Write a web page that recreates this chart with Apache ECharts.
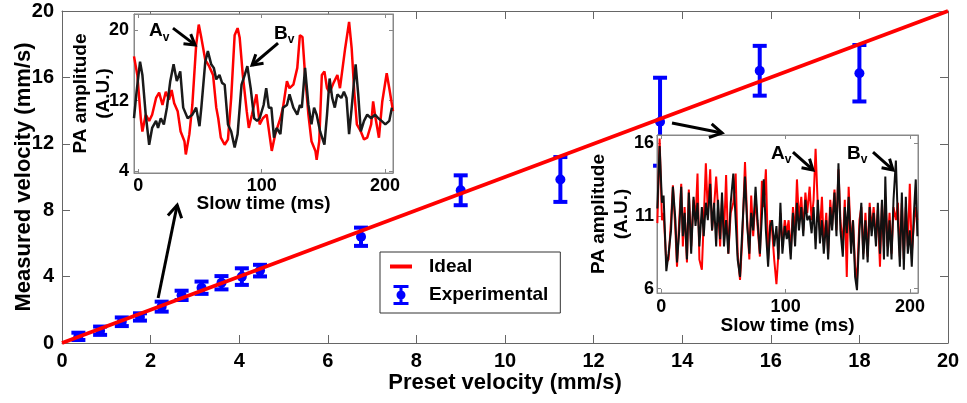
<!DOCTYPE html>
<html><head><meta charset="utf-8">
<script src="https://cdn.jsdelivr.net/npm/echarts@6/dist/echarts.min.js"></script>
<style>html,body{margin:0;padding:0;background:#fff}#c{width:967px;height:403px}</style>
</head><body><div id="c"></div>
<script>
// ---------------- data ----------------
const mainXTicks = [0, 2, 4, 6, 8, 10, 12, 14, 16, 18, 20];
const mainYTicks = [0, 4, 8, 12, 16, 20];
const presetVelocity   = [0.37, 0.86, 1.35, 1.76, 2.25, 2.70, 3.15, 3.60, 4.06, 4.47, 6.75, 9.00, 11.25, 13.50, 15.75, 18.00];
const measuredVelocity = [0.40, 0.74, 1.28, 1.57, 2.19, 2.87, 3.33, 3.63, 4.00, 4.36, 6.40, 9.20, 9.85, 13.33, 16.40, 16.25];
const measuredError    = [0.22, 0.25, 0.26, 0.22, 0.30, 0.28, 0.37, 0.40, 0.50, 0.35, 0.55, 0.90, 1.35, 2.65, 1.50, 1.70];
const idealX = [0, 20];
const idealY = [0, 20];

const insetXTicks = [0, 100, 200];
const inset1YTicks = [4, 12, 20];
const inset2YTicks = [6, 11, 16];

const inset1RedT = [-3.5,-0.8,2.0,3.3,6.0,8.8,11.2,14.4,16.9,19.6,22.3,24.9,27.0,29.1,31.9,34.3,37.4,38.5,41.4,43.8,46.9,49.0,51.1,54.3,57.4,60.6,63.2,64.8,66.9,70.0,72.7,75.3,78.1,80.5,82.2,84.7,87.9,89.6,92.1,95.8,98.4,101.0,104.1,108.2,111.0,115.2,117.3,120.5,122.6,125.7,128.9,131.0,133.1,135.2,137.9,140.4,143.6,144.6,146.7,148.8,150.9,153.0,155.1,158.3,161.4,163.5,167.7,170.9,173.0,175.1,177.2,180.4,183.0,185.6,188.8,190.4,191.9,195.1,197.8,201.4,203.5,206.5];
const inset1RedV = [17.0,14.9,10.0,8.5,10.4,9.7,10.4,12.3,12.9,11.5,13.0,12.1,13.2,11.7,10.8,8.5,7.4,5.9,8.2,11.5,18.3,20.6,19.1,16.6,15.9,14.9,11.2,10.0,7.8,7.0,7.6,12.3,19.4,20.2,19.1,14.9,10.8,8.9,10.4,12.7,9.3,10.0,10.4,6.3,8.2,10.0,11.2,14.2,13.4,13.8,15.7,19.4,19.2,14.9,10.4,7.4,6.3,5.3,7.4,14.9,15.3,13.4,12.9,14.0,14.9,13.4,17.9,20.9,17.9,13.0,9.3,8.5,7.6,7.8,9.3,11.9,10.4,7.8,11.9,15.1,13.4,10.8];
const inset1BlackT = [-3.5,-1.4,1.4,3.3,6.0,8.8,11.2,14.4,16.0,18.2,20.7,23.2,25.9,28.6,31.2,34.0,36.4,40.0,43.8,46.9,49.6,51.1,54.3,56.4,59.1,61.2,63.2,65.8,67.9,70.0,72.7,75.3,78.1,80.5,83.7,86.3,88.4,91.1,93.9,96.3,98.4,101.6,103.7,105.8,107.9,110.0,112.1,115.2,117.3,120.5,122.6,125.7,128.9,131.0,132.6,135.2,137.9,140.4,142.5,144.6,147.4,150.9,153.0,155.1,157.2,159.3,161.4,164.6,166.7,168.8,170.9,173.0,176.2,178.3,180.4,183.0,185.6,188.8,191.9,194.6,197.2,200.3,203.5,205.6];
const inset1BlackV = [10.0,13.0,16.4,14.9,10.4,7.0,8.9,9.7,8.9,10.0,9.3,11.2,14.2,16.1,14.2,15.3,11.2,10.0,10.4,11.2,9.1,11.2,16.4,17.6,16.1,15.7,14.4,14.9,14.0,13.8,9.3,8.5,6.7,8.2,13.8,14.9,15.9,13.4,10.0,9.7,10.0,11.5,13.4,11.2,11.2,7.8,8.9,8.2,11.2,11.5,12.7,11.2,10.4,11.5,11.2,15.7,11.5,9.3,11.2,10.4,8.5,7.0,10.4,14.5,12.3,11.2,12.7,12.3,13.0,12.3,8.2,11.2,16.1,12.7,8.5,9.7,10.4,10.0,10.4,10.0,9.7,9.3,9.7,11.2];

const inset2T = [-3.2,-1.4,0.5,1.8,4.0,5.8,7.8,9.3,11.3,12.6,14.4,16.0,17.3,18.7,20.6,22.1,24.0,25.9,27.5,29.1,30.6,32.6,34.1,35.8,37.4,39.3,40.8,42.4,44.1,45.6,47.3,48.8,50.4,52.1,53.9,55.8,57.9,59.8,61.4,63.3,65.1,67.3,69.1,70.8,72.3,73.9,75.8,77.4,79.3,80.9,82.4,84.1,85.9,87.6,89.1,90.8,92.6,94.2,95.8,97.4,99.3,100.9,102.4,104.1,105.9,107.6,109.1,110.7,112.6,114.2,115.9,117.4,119.3,120.9,122.5,124.1,125.9,127.6,129.2,130.7,132.7,134.2,135.9,137.4,139.3,140.9,142.5,144.1,146.0,147.6,149.2,150.7,152.7,154.2,155.9,157.4,159.4,160.9,162.5,164.2,166.0,167.6,169.2,170.8,172.7,174.2,175.9,177.5,179.1,180.2,182.0,183.6,185.2,186.8,188.7,190.3,191.9,193.5,195.1,196.7,198.3,199.9,201.5,203.1,204.7,206.0];
const inset2Red = [10.5,16.3,10.7,11.2,7.8,8.0,10.7,13.1,10.0,7.5,10.7,13.2,8.9,11.6,7.8,12.8,8.9,12.1,10.7,13.9,8.0,7.3,10.7,14.6,11.2,14.2,10.0,11.6,13.7,11.6,8.9,12.1,9.6,13.8,8.4,11.2,11.9,13.9,8.4,6.6,9.4,14.7,10.7,8.0,12.4,9.6,12.3,10.3,8.2,13.4,11.6,14.2,8.0,10.7,10.0,8.0,6.3,8.4,11.2,8.9,10.7,9.8,10.7,8.4,11.6,9.6,13.5,10.7,12.3,10.0,12.6,11.2,13.0,10.7,12.1,15.6,11.6,10.0,12.3,8.9,11.2,8.4,12.1,10.3,12.8,10.0,14.2,10.7,8.9,12.1,6.8,13.0,8.9,10.7,7.5,6.6,10.7,11.6,8.4,11.2,8.2,11.9,10.0,11.6,9.4,11.4,7.5,11.9,8.9,12.3,8.9,11.2,8.4,11.6,10.7,11.9,8.2,11.9,8.0,11.6,8.9,13.2,8.4,10.3,11.6,10.7];
const inset2Black = [11.5,15.8,11.9,12.4,7.2,8.4,10.0,13.0,10.7,7.8,10.0,13.0,9.6,11.2,8.0,12.6,8.4,12.3,10.3,11.9,8.9,11.6,9.6,11.9,10.7,13.2,10.0,11.9,8.9,12.1,9.4,12.6,8.9,10.7,8.4,11.9,13.9,10.7,8.0,6.8,10.0,13.7,10.3,8.4,11.2,10.0,13.0,10.7,8.4,11.0,13.5,10.0,7.5,10.3,10.7,8.9,10.3,8.0,11.9,8.4,10.3,9.4,10.0,8.0,11.2,8.9,11.9,10.0,11.6,9.6,12.1,10.7,11.0,9.8,11.6,8.7,12.1,9.1,10.7,8.4,10.7,8.0,11.6,10.0,12.6,9.6,14.6,10.0,8.2,11.6,9.8,12.3,8.4,10.7,6.8,5.9,10.0,11.9,8.0,10.7,7.8,11.6,9.6,11.2,8.9,11.9,8.4,12.1,8.0,13.7,8.2,10.7,8.0,12.1,14.8,10.7,7.5,12.6,7.3,12.3,8.4,10.0,7.5,11.0,13.5,9.6];

// annotation anchors (data coords of each panel)
const annMain = [{from:[2.17,2.71], to:[2.60,8.31]}, {from:[13.77,13.25], to:[14.90,12.65]}];
const annInset1 = [{label:[8.7,21.3], from:[28.1,20.2], to:[46.0,18.3], name:'A'},
                   {label:[110.0,21.0], from:[113.3,18.5], to:[92.2,16.0], name:'B'}];
const annInset2 = [{label:[88.2,16.14], from:[105.9,15.38], to:[122.0,14.15], name:'A'},
                   {label:[149.4,16.14], from:[170.3,15.38], to:[186.4,14.15], name:'B'}];

// ---------------- chart ----------------
const FONT = 'Liberation Sans, Arial, Helvetica, sans-serif';
const AX = '#666';
const zip = (a, b) => a.map((v, i) => [v, b[i]]);
const chart = echarts.init(document.getElementById('c'), null, {renderer: 'canvas'});

function mainAxis(kind, pos, show, extra) {
  return Object.assign({
    type: 'value', gridIndex: 0, position: pos, min: 0, max: 20, interval: kind === 'x' ? 2 : 4,
    nameMoveOverlap: false,
    axisLine: {show: true, onZero: false, lineStyle: {color: AX, width: 1}},
    axisTick: {show: true, inside: true, length: 8, lineStyle: {color: AX, width: 1}},
    axisLabel: {show: show, fontFamily: FONT, fontSize: 20, fontWeight: 'bold', color: '#000', margin: 8},
    splitLine: {show: false}, z: 1
  }, extra || {});
}
function insetAxis(grid, pos, min, max, ticks, show, extra, margin) {
  return Object.assign({
    type: 'value', gridIndex: grid, position: pos, min: min, max: max,
    nameMoveOverlap: false,
    axisLine: {show: true, onZero: false, lineStyle: {color: '#888', width: 1}},
    axisTick: {show: true, inside: true, length: 4, customValues: ticks, lineStyle: {color: '#888'}},
    axisLabel: {show: show, customValues: ticks, fontFamily: FONT, fontSize: 18, fontWeight: 'bold', color: '#000', margin: margin},
    splitLine: {show: false}, z: 11
  }, extra || {});
}
const nameStyleMain = {fontFamily: FONT, fontSize: 22, fontWeight: 'bold', color: '#000'};
const nameStyleInset = {fontFamily: FONT, fontSize: 19, fontWeight: 'bold', color: '#000', lineHeight: 23};

const option = {
  animation: false,
  backgroundColor: '#fff',
  grid: [
    {left: 62, top: 11, right: 19, bottom: 60, show: false, outerBoundsMode: 'none', containLabel: false},
    {left: 134, top: 14, width: 259, height: 159, show: true, backgroundColor: '#fff', borderColor: '#888', borderWidth: 1, z: 10, outerBoundsMode: 'none', containLabel: false},
    {left: 657, top: 135, width: 261, height: 158, show: true, backgroundColor: '#fff', borderColor: '#888', borderWidth: 1, z: 10, outerBoundsMode: 'none', containLabel: false}
  ],
  xAxis: [
    mainAxis('x', 'bottom', true, {name: 'Preset velocity (mm/s)', nameLocation: 'middle', nameGap: 29, nameTextStyle: nameStyleMain}),
    mainAxis('x', 'top', false),
    insetAxis(1, 'bottom', -3.5, 206.5, insetXTicks, true, {name: 'Slow time (ms)', nameLocation: 'middle', nameGap: 19, nameTextStyle: nameStyleInset}, 4),
    insetAxis(1, 'top', -3.5, 206.5, insetXTicks, false),
    insetAxis(2, 'bottom', -3.5, 206.5, insetXTicks, true, {name: 'Slow time (ms)', nameLocation: 'middle', nameGap: 21, nameTextStyle: nameStyleInset}, 5),
    insetAxis(2, 'top', -3.5, 206.5, insetXTicks, false)
  ],
  yAxis: [
    mainAxis('y', 'left', true, {name: 'Measured velocity (mm/s)', nameLocation: 'middle', nameGap: 27, nameTextStyle: nameStyleMain}),
    mainAxis('y', 'right', false),
    insetAxis(1, 'left', 3.8, 21.8, inset1YTicks, true, {name: 'PA amplitude\n(A.U.)', nameLocation: 'middle', nameGap: 19, nameTextStyle: nameStyleInset}, 5),
    insetAxis(1, 'right', 3.8, 21.8, inset1YTicks, false),
    insetAxis(2, 'left', 5.7, 16.55, inset2YTicks, true, {name: 'PA amplitude\n(A.U.)', nameLocation: 'middle', nameGap: 24, nameTextStyle: nameStyleInset}, 3),
    insetAxis(2, 'right', 5.7, 16.55, inset2YTicks, false)
  ],
  legend: {
    orient: 'vertical', left: 380, top: 252, z: 20,
    backgroundColor: '#fff', borderColor: '#333', borderWidth: 1,
    padding: [5, 12, 8, 10], itemGap: 9, itemWidth: 22, itemHeight: 20,
    textStyle: {fontFamily: FONT, fontSize: 19, fontWeight: 'bold', color: '#000', padding: [0, 0, 0, 12]},
    data: [
      {name: 'Ideal', icon: 'path://M0,0H22V4H0Z', itemStyle: {color: '#ff0000'}},
      {name: 'Experimental', icon: 'path://M0,0H15V3H0Z M6,3H9V17H6Z M0,17H15V20H0Z M7.5,5.5A4.5,4.5 0 1,1 7.5,14.5A4.5,4.5 0 1,1 7.5,5.5Z', itemStyle: {color: '#0000ff'}}
    ]
  },
  series: [
    {
      name: 'Ideal', type: 'line', xAxisIndex: 0, yAxisIndex: 0, data: zip(idealX, idealY),
      showSymbol: false, symbol: 'none', lineStyle: {color: '#ff0000', width: 4}, itemStyle: {color: '#ff0000'}, z: 3
    },
    {
      name: 'Experimental', type: 'custom', xAxisIndex: 0, yAxisIndex: 0,
      data: presetVelocity.map((x, i) => [x, measuredVelocity[i], measuredError[i]]),
      encode: {x: 0, y: 1}, itemStyle: {color: '#0000ff'}, z: 2,
      renderItem: function (params, api) {
        const x = api.value(0), y = api.value(1), e = api.value(2);
        const c = api.coord([x, y]), t = api.coord([x, y + e]), b = api.coord([x, y - e]);
        const w = 7, st = {stroke: '#0000ff', lineWidth: 4};
        return {type: 'group', children: [
          {type: 'line', shape: {x1: c[0], y1: t[1], x2: c[0], y2: b[1]}, style: st},
          {type: 'line', shape: {x1: c[0] - w, y1: t[1], x2: c[0] + w, y2: t[1]}, style: st},
          {type: 'line', shape: {x1: c[0] - w, y1: b[1], x2: c[0] + w, y2: b[1]}, style: st},
          {type: 'circle', shape: {cx: c[0], cy: c[1], r: 5}, style: {fill: '#0000ff'}}
        ]};
      }
    },
    {type: 'line', xAxisIndex: 2, yAxisIndex: 2, data: zip(inset1RedT, inset1RedV), showSymbol: false, symbol: 'none',
     lineStyle: {color: '#ff0000', width: 2.5}, z: 12, silent: true},
    {type: 'line', xAxisIndex: 2, yAxisIndex: 2, data: zip(inset1BlackT, inset1BlackV), showSymbol: false, symbol: 'none',
     lineStyle: {color: '#1a1a1a', width: 2.5}, z: 13, silent: true},
    {type: 'line', xAxisIndex: 4, yAxisIndex: 4, data: zip(inset2T, inset2Red), showSymbol: false, symbol: 'none',
     lineStyle: {color: '#ff0000', width: 2}, z: 12, silent: true},
    {type: 'line', xAxisIndex: 4, yAxisIndex: 4, data: zip(inset2T, inset2Black), showSymbol: false, symbol: 'none',
     lineStyle: {color: '#111', width: 2}, z: 13, silent: true}
  ]
};
chart.setOption(option);

// ---------------- annotations (arrows + labels) ----------------
function toPx(ax, p) { return chart.convertToPixel({xAxisIndex: ax, yAxisIndex: ax}, p); }
function arrow(p0, p1, hl, hw) {
  const dx = p1[0] - p0[0], dy = p1[1] - p0[1], L = Math.hypot(dx, dy), ux = dx / L, uy = dy / L;
  const bx = p1[0] - ux * hl, by = p1[1] - uy * hl;
  const a = [bx - uy * hw, by + ux * hw], b = [bx + uy * hw, by - ux * hw];
  return [
    {type: 'line', z: 100, shape: {x1: p0[0], y1: p0[1], x2: p1[0], y2: p1[1]}, style: {stroke: '#000', lineWidth: 3}},
    {type: 'polyline', z: 100, shape: {points: [a, p1, b]}, style: {stroke: '#000', lineWidth: 3, fill: null}}
  ];
}
function label(p, name) {
  return {type: 'text', z: 100, x: p[0], y: p[1], style: {
    text: '{a|' + name + '}{s|v}', align: 'left', verticalAlign: 'top',
    rich: {a: {fontFamily: FONT, fontSize: 19, fontWeight: 'bold', fill: '#000', verticalAlign: 'bottom', lineHeight: 22},
           s: {fontFamily: FONT, fontSize: 12, fontWeight: 'bold', fill: '#000', verticalAlign: 'bottom', lineHeight: 16, padding: [0, 0, -3, 0]}}
  }};
}
let g = [];
annMain.forEach(a => { g = g.concat(arrow(toPx(0, a.from), toPx(0, a.to), 12, 7)); });
annInset1.forEach(a => { g = g.concat(arrow(toPx(2, a.from), toPx(2, a.to), 10, 6)); g.push(label(toPx(2, a.label), a.name)); });
annInset2.forEach(a => { g = g.concat(arrow(toPx(4, a.from), toPx(4, a.to), 10, 6)); g.push(label(toPx(4, a.label), a.name)); });
chart.setOption({graphic: {elements: g}});
</script>
</body></html>
